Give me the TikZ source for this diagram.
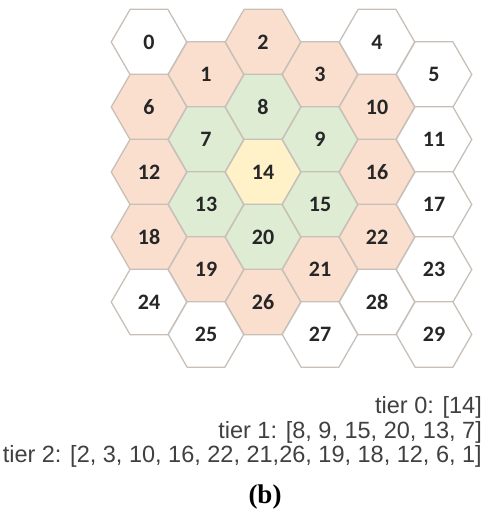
\documentclass[tikz,border=0pt]{standalone}
\usepackage{fontspec}
\setmainfont{Liberation Serif}
\newfontfamily\numfont{Carlito}
\newfontfamily\tierfont{Liberation Sans}
\usetikzlibrary{shapes.geometric}

\definecolor{hexedge}{RGB}{200,192,184}
\definecolor{tzero}{RGB}{255,241,200}
\definecolor{tone}{RGB}{222,236,212}
\definecolor{ttwo}{RGB}{250,223,207}
\definecolor{numtext}{RGB}{38,38,38}
\definecolor{tiertext}{RGB}{64,64,64}

\begin{document}
\begin{tikzpicture}[
  x=1bp, y=-1bp,
  hex/.style={regular polygon, regular polygon sides=6, minimum size=75.5bp,
              inner sep=0pt, draw=hexedge, line width=1.3bp, fill=#1,
              text=numtext, font=\numfont\bfseries\fontsize{22bp}{26bp}\selectfont},
  hex/.default=white,
  t0/.style={hex=tzero},
  t1/.style={hex=tone},
  t2/.style={hex=ttwo},
  t3/.style={hex=white},
  tiers/.style={align=right, anchor=east, inner sep=0pt, text=tiertext,
                font=\tierfont\fontsize{23.5bp}{24.5bp}\selectfont},
  caption/.style={inner sep=0pt, font=\bfseries\fontsize{27bp}{30bp}\selectfont},
]
\useasboundingbox (0,0) rectangle (493,530);

% ---------- Hexagon grid (6 columns x 5 rows) ----------
\foreach \n/\t in {0/t3, 1/t2, 2/t2, 3/t2, 4/t3, 5/t3,
                   6/t2, 7/t1, 8/t1, 9/t1, 10/t2, 11/t3,
                   12/t2, 13/t1, 14/t0, 15/t1, 16/t2, 17/t3,
                   18/t2, 19/t2, 20/t1, 21/t2, 22/t2, 23/t3,
                   24/t3, 25/t3, 26/t2, 27/t3, 28/t3, 29/t3}{
  \pgfmathtruncatemacro\c{mod(\n,6)}
  \pgfmathtruncatemacro\r{div(\n,6)}
  \pgfmathsetmacro\yy{42+65*\r+32.5*mod(\c,2)}
  \node[\t] (h\n) at ({149+57*\c},\yy) {\n};
}

% ---------- Tier lists ----------
\node[tiers] (tiers) at (482,432)
  {tier 0: [14]\\
   tier 1: [8, 9, 15, 20, 13, 7]\\
   tier 2: [2, 3, 10, 16, 22, 21,26, 19, 18, 12, 6, 1]};

% ---------- Caption ----------
\node[caption] (cap) at (265,497) {(b)};

\end{tikzpicture}
\end{document}
